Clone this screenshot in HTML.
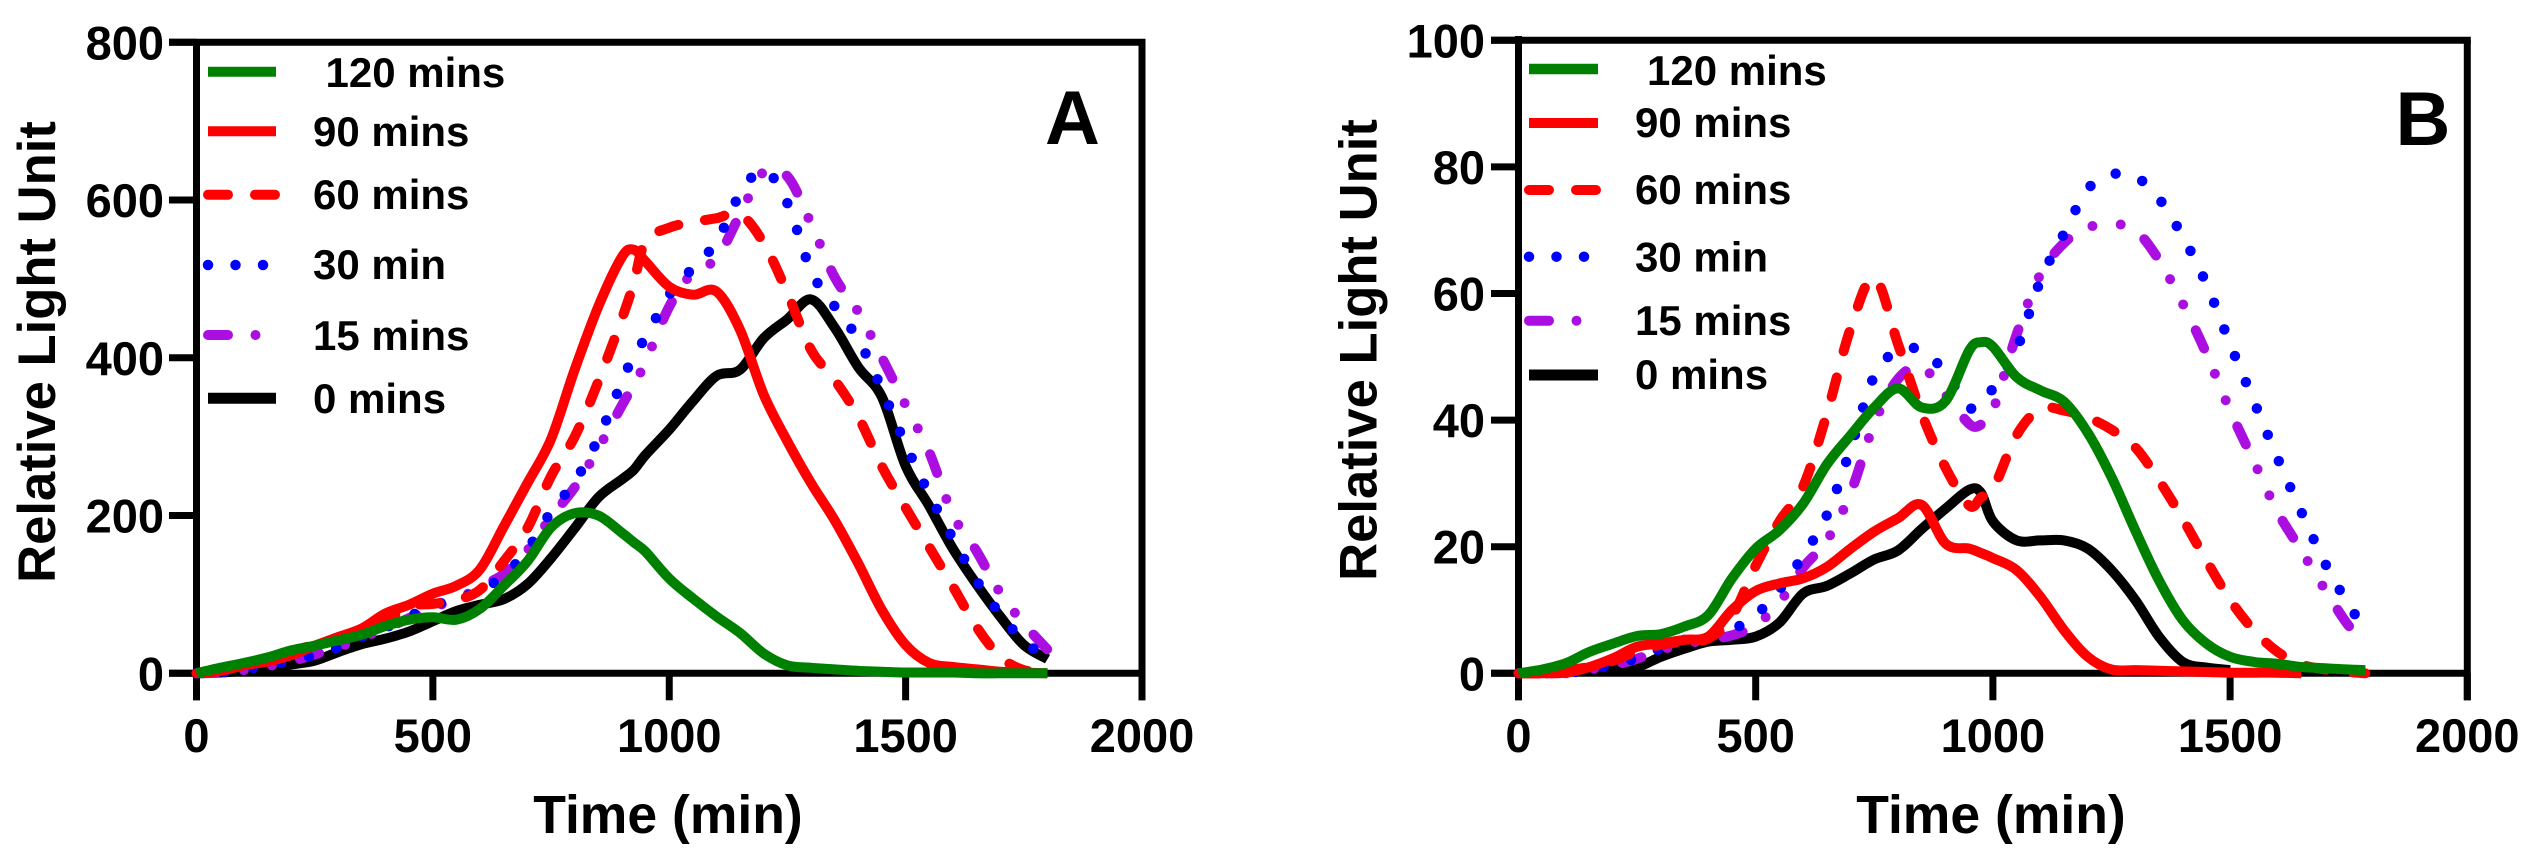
<!DOCTYPE html>
<html lang="en">
<head>
<meta charset="utf-8">
<title>Relative Light Unit vs Time</title>
<style>
html,body{margin:0;padding:0;background:#fff;width:2535px;height:865px;overflow:hidden}
svg{display:block}
text{font-family:"Liberation Sans",Arial,sans-serif;font-weight:bold;fill:#000}
</style>
</head>
<body>
<svg id="chart" width="2535" height="865" viewBox="0 0 2535 865" xmlns="http://www.w3.org/2000/svg">
  <rect x="0" y="0" width="2535" height="865" fill="#fff"/>

  <g id="panelA"></g>
  <g id="panelB"></g>

  <text transform="translate(55 352) rotate(-90)" text-anchor="middle" font-size="52.6">Relative Light Unit</text>
  <text x="668" y="833" text-anchor="middle" font-size="53.5">Time (min)</text>
  <text x="1072.5" y="144" text-anchor="middle" font-size="76">A</text>

  <text transform="translate(1376.5 350) rotate(-90)" text-anchor="middle" font-size="52.6">Relative Light Unit</text>
  <text x="1991" y="833" text-anchor="middle" font-size="53.5">Time (min)</text>
  <text x="2423" y="145" text-anchor="middle" font-size="76">B</text>

  <g font-size="42">
    <g><line x1="208" x2="276" y1="71.7" y2="71.7" stroke="#008000" stroke-width="10"/><text x="325.5" y="87">120 mins</text></g>
    <g><line x1="208" x2="276" y1="131.3" y2="131.3" stroke="#ff0000" stroke-width="10"/><text x="313" y="146">90 mins</text></g>
    <g><line x1="208" x2="276" y1="194.7" y2="194.7" stroke="#ff0000" stroke-width="10" stroke-linecap="round" stroke-dasharray="20 27"/><text x="313" y="209">60 mins</text></g>
    <g><line x1="208" x2="276" y1="265" y2="265" stroke="#0000ff" stroke-width="10.5" stroke-linecap="round" stroke-dasharray="0 27.5"/><text x="313" y="279">30 min</text></g>
    <g><line x1="208" x2="276" y1="335" y2="335" stroke="#aa0ee0" stroke-width="10" stroke-linecap="round" stroke-dasharray="20 27.5 0 28.5 0 28.7"/><text x="313" y="350">15 mins</text></g>
    <g><line x1="208" x2="276" y1="398.3" y2="398.3" stroke="#000" stroke-width="11"/><text x="313" y="413">0 mins</text></g>
  </g>

  <g font-size="42">
    <g><line x1="1529" x2="1598" y1="69" y2="69" stroke="#008000" stroke-width="10.5"/><text x="1647" y="85">120 mins</text></g>
    <g><line x1="1529" x2="1598" y1="123" y2="123" stroke="#ff0000" stroke-width="10"/><text x="1635" y="137">90 mins</text></g>
    <g><line x1="1529" x2="1598" y1="190" y2="190" stroke="#ff0000" stroke-width="10" stroke-linecap="round" stroke-dasharray="20 27"/><text x="1635" y="204">60 mins</text></g>
    <g><line x1="1529" x2="1598" y1="256.7" y2="256.7" stroke="#0000ff" stroke-width="10.5" stroke-linecap="round" stroke-dasharray="0 27.5"/><text x="1635" y="271.7">30 min</text></g>
    <g><line x1="1529" x2="1598" y1="320.7" y2="320.7" stroke="#aa0ee0" stroke-width="10" stroke-linecap="round" stroke-dasharray="20 27.5 0 28.5 0 28.7"/><text x="1635" y="335">15 mins</text></g>
    <g><line x1="1529" x2="1598" y1="375" y2="375" stroke="#000" stroke-width="11"/><text x="1635" y="389">0 mins</text></g>
  </g>
</svg>

<script>
// ---- Panel A data (Relative Light Unit per time point) ----
const timesA = [0,50,100,150,200,250,300,350,400,450,500,550,600,650,700,750,800,850,900,925,950,1000,1050,1100,1150,1200,1250,1300,1350,1400,1450,1500,1550,1600,1650,1700,1750,1800];
const a0mins = [0,1,3,6,11,16,27,37,44,53,66,79,87,94,113,146,184,223,246,258,277,309,345,377,385,425,449,474,438,388,350,263,212,158,113,72,36,18];
const a15mins = [0,1,4,9,15,24,33,45,57,70,84,93,110,126,156,198,236,285,340,366,395,465,508,526,582,636,630,570,502,458,400,340,280,201,155,102,63,30];
const a30min = [0,1,5,10,16,23,33,46,58,72,86,94,105,124,157,205,243,298,370,403,426,480,514,547,608,638,596,510,465,423,360,290,227,171,118,75,41,20];
const a60mins = [0,6,12,19,28,36,45,54,66,85,88,93,106,142,184,250,300,370,450,495,548,565,572,577,582,545,482,410,372,325,262,210,160,110,59,21,4,2];
const a90mins = [0,3,10,15,23,35,46,57,76,87,101,111,132,186,241,297,385,465,528,537,522,490,480,484,435,353,294,241,194,139,80,36,13,8,5,2,1,0];
const a120mins = [0,7,13,20,29,35,42,49,60,68,71,68,82,111,142,185,203,200,178,166,154,120,95,72,51,25,10,7,5,3,2,1,1,1,0,0,0,0];

// ---- Panel B data ----
const timesB = [0,50,100,150,200,250,300,350,400,450,500,550,600,650,700,750,800,850,900,950,975,1000,1050,1100,1150,1200,1250,1300,1350,1400,1450,1500,1550,1600,1650,1700,1750,1785];
const b0mins = [0,0.4,0.7,0.6,0.7,1,2.6,3.9,5,5.3,5.8,8,12.6,13.8,15.8,18,19.4,22.8,26,29,28.5,24,21,21,21,19.7,16.3,11.6,5.8,1.8,0.9,0.5];
const b15mins = [0,0,0,0.6,1.3,2.3,3.7,4.6,5.3,6,7.6,11.2,16.7,21,28.5,39.5,46.5,48.4,44,39.4,39.3,41.5,53.5,63,68,70.4,71,70,65.3,58.4,50.5,41.5,33.5,25.5,19.4,13.2,7.5,5];
const b30min = [0,0,0.1,0.5,1.4,2.4,3.9,5.3,6,6.9,9.2,13.2,18.6,25,35.5,47,51,51,47.5,42,43,45,51.2,62,69.5,76.5,78.8,78.5,75,69,61.5,52,43,34,25.5,17.4,10.8,7];
const b60mins = [0,0,0.5,1,2,3.5,4.5,5,5.5,9,17,24,29.5,41,54.5,62.5,52,41,32.5,26.5,27.8,29,37.6,41.8,41.5,40.4,38.5,35.7,30.5,24.4,17.8,11.6,6.8,3.4,1.4,0.6,0.2,0];
const b90mins = [0,0,0.1,1,2.4,4.2,4.7,5.3,5.8,10,13,14.2,15,16.8,19.7,22.4,24.5,26.6,20.5,19.7,19,18.2,16.3,12.1,6.8,2.6,0.6,0.5,0.4,0.3,0.2,0.1,0.1,0.1,0];
const b120mins = [0,0.6,1.6,3.4,4.7,5.9,6.2,7.4,9.2,15,19.7,22.6,26.8,33,37.6,42,45,42,43,51,52.3,51.6,46.8,44.7,42.9,38,31,22.6,14.7,8.4,4.7,2.6,1.8,1.5,1,0.8,0.6,0.5];

// ---- Tick labels ----
const xTicks = [0,500,1000,1500,2000];
const yTicksA = [0,200,400,600,800];
const yTicksB = [0,20,40,60,80,100];

const SVGNS = 'http://www.w3.org/2000/svg';

function makeScale(d0, d1, p0, p1) {
  return function (v) { return p0 + (v - d0) * (p1 - p0) / (d1 - d0); };
}

function addLine(parent, x1, y1, x2, y2, name) {
  const el = document.createElementNS(SVGNS, 'line');
  el.setAttribute('x1', x1);
  el.setAttribute('y1', y1);
  el.setAttribute('x2', x2);
  el.setAttribute('y2', y2);
  el.setAttribute('stroke', '#000');
  el.setAttribute('stroke-width', 7);
  
  
  parent.appendChild(el);
}

function addText(parent, x, y, anchor, label, name) {
  const el = document.createElementNS(SVGNS, 'text');
  el.setAttribute('x', x);
  el.setAttribute('y', y);
  el.setAttribute('text-anchor', anchor);
  el.setAttribute('font-size', 47);
  el.textContent = label;
  
  
  parent.appendChild(el);
}

function addSeries(parent, times, values, xs, ys, color, width, dash, name) {
  const el = document.createElementNS(SVGNS, 'path');
  const pts = values.map(function (v, i) { return [xs(times[i]), ys(v)]; });
  let d = 'M' + pts[0][0].toFixed(1) + ' ' + pts[0][1].toFixed(1);
  for (let i = 0; i < pts.length - 1; i++) {
    const p0 = pts[Math.max(i - 1, 0)], p1 = pts[i], p2 = pts[i + 1], p3 = pts[Math.min(i + 2, pts.length - 1)];
    const c1x = p1[0] + (p2[0] - p0[0]) / 6, c1y = p1[1] + (p2[1] - p0[1]) / 6;
    const c2x = p2[0] - (p3[0] - p1[0]) / 6, c2y = p2[1] - (p3[1] - p1[1]) / 6;
    d += 'C' + c1x.toFixed(1) + ' ' + c1y.toFixed(1) + ' ' + c2x.toFixed(1) + ' ' + c2y.toFixed(1) + ' ' + p2[0].toFixed(1) + ' ' + p2[1].toFixed(1);
  }
  el.setAttribute('d', d);
  el.setAttribute('fill', 'none');
  el.setAttribute('stroke', color);
  el.setAttribute('stroke-width', width);
  el.setAttribute('stroke-linejoin', 'round');
  el.setAttribute('stroke-linecap', dash ? 'round' : 'butt');
  if (dash) el.setAttribute('stroke-dasharray', dash);
  
  
  parent.appendChild(el);
}

function drawAxes(group, prefix, xs, ys, xMax, yTicks, yMax, labelRight, tickLeft, axisTop) {
  const x0 = xs(0), xEnd = xs(xMax), yB = ys(0), yT = ys(yMax);
  addLine(group, x0, axisTop, x0, yB + 27, prefix + '-y-axis-line');
  addLine(group, tickLeft, yT, xEnd + 3.5, yT, prefix + '-top-border');
  addLine(group, xEnd, yT, xEnd, yB + 27, prefix + '-right-border');
  addLine(group, tickLeft, yB, xEnd, yB, prefix + '-x-axis-line');
  xTicks.forEach(function (t) {
    addLine(group, xs(t), yB, xs(t), yB + 27, prefix + '-x-tick-' + t);
    addText(group, xs(t), 752, 'middle', String(t), prefix + '-x-tick-label-' + t);
  });
  yTicks.forEach(function (t) {
    addLine(group, tickLeft, ys(t), x0, ys(t), prefix + '-y-tick-' + t);
    addText(group, labelRight, ys(t) + 17, 'end', String(t), prefix + '-y-tick-label-' + t);
  });
}

const DASH = '20 27';
const DOT = '0 28.5';
const DASHDOT = '20 27.5 0 28.5 0 28.7';

const xA = makeScale(0, 2000, 196.5, 1142);
const yA = makeScale(0, 800, 673.3, 42.3);
const gA = document.getElementById('panelA');
drawAxes(gA, 'panel-a', xA, yA, 2000, yTicksA, 800, 164, 169, 42);
addSeries(gA, timesA, a0mins, xA, yA, '#000', 10, null, 'series-a-0-mins');
addSeries(gA, timesA, a15mins, xA, yA, '#aa0ee0', 10, DASHDOT, 'series-a-15-mins');
addSeries(gA, timesA, a30min, xA, yA, '#0000ff', 10.5, DOT, 'series-a-30-min');
addSeries(gA, timesA, a60mins, xA, yA, '#ff0000', 10, DASH, 'series-a-60-mins');
addSeries(gA, timesA, a90mins, xA, yA, '#ff0000', 10, null, 'series-a-90-mins');
addSeries(gA, timesA, a120mins, xA, yA, '#008000', 10, null, 'series-a-120-mins');

const xB = makeScale(0, 2000, 1518.5, 2467.3);
const yB = makeScale(0, 100, 673.3, 40.3);
const gB = document.getElementById('panelB');
drawAxes(gB, 'panel-b', xB, yB, 2000, yTicksB, 100, 1485, 1491, 36);
addSeries(gB, timesB, b0mins, xB, yB, '#000', 10, null, 'series-b-0-mins');
addSeries(gB, timesB, b15mins, xB, yB, '#aa0ee0', 10, DASHDOT, 'series-b-15-mins');
addSeries(gB, timesB, b30min, xB, yB, '#0000ff', 10.5, DOT, 'series-b-30-min');
addSeries(gB, timesB, b60mins, xB, yB, '#ff0000', 10, DASH, 'series-b-60-mins');
addSeries(gB, timesB, b90mins, xB, yB, '#ff0000', 10, null, 'series-b-90-mins');
addSeries(gB, timesB, b120mins, xB, yB, '#008000', 10, null, 'series-b-120-mins');
</script>
</body>
</html>
